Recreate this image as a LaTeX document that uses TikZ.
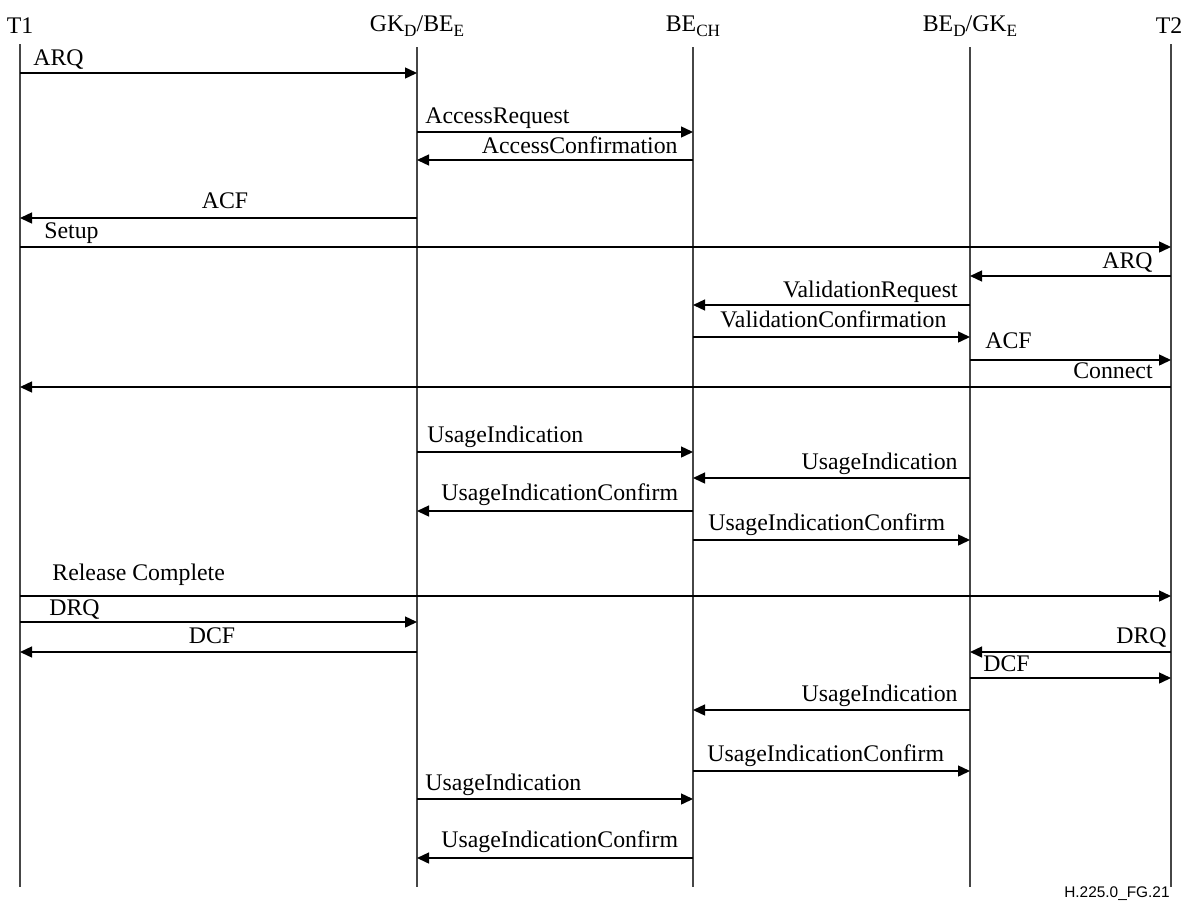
\documentclass[tikz,border=0pt]{standalone}
\usepackage{fontspec}
\setmainfont{Liberation Serif}
\newfontfamily\figfont{Liberation Sans}
\usetikzlibrary{arrows.meta, positioning}
\definecolor{lifegray}{RGB}{70, 70, 70}
\newcommand{\lowsub}[1]{\raisebox{-2.4pt}{\fontsize{8.6}{10}\selectfont #1}}

\begin{document}
\begin{tikzpicture}[x=0.5pt, y=-0.5pt,
    every node/.style={font=\fontsize{11.9}{14}\selectfont, inner sep=0pt},
    head/.style={anchor=base},
    life/.style={lifegray, line width=0.7pt},
    msg/.style={black, line width=0.7pt, -{Triangle[length=6pt, width=5.5pt]}},
    lbl/.style={anchor=base west},
    rlbl/.style={anchor=base east},
    clbl/.style={anchor=base}]
    \useasboundingbox (0,0) rectangle (1192,910);

    % entities
    \node[head] (t1) at (20,33) {T1};
    \node[head] (gk) at (417,32) {GK\lowsub{D}/BE\lowsub{E}};
    \node[head] (bech) at (693,32) {BE\lowsub{CH}};
    \node[head] (begk) at (970,32) {BE\lowsub{D}/GK\lowsub{E}};
    \node[head] (t2) at (1169,33) {T2};

    \draw[life] (t1 |- 0,44) -- (t1 |- 0,887);
    \draw[life] (gk |- 0,47) -- (gk |- 0,887);
    \draw[life] (bech |- 0,47) -- (bech |- 0,887);
    \draw[life] (begk |- 0,47) -- (begk |- 0,887);
    \draw[life] (1171,44) -- (1171,887);
    \coordinate (t2l) at (1171,0);

    % admission
    \draw[msg] (t1 |- 0,73) -- (gk |- 0,73);
    \node[lbl] (arq1) at (33,65) {ARQ};
    \draw[msg] (gk |- 0,132) -- (bech |- 0,132);
    \node[lbl] (accreq) at (425,123) {AccessRequest};
    \draw[msg] (bech |- 0,160) -- (gk |- 0,160);
    \node[rlbl] (acccnf) at (678,153) {AccessConfirmation};
    \draw[msg] (gk |- 0,218) -- (t1 |- 0,218);
    \node[clbl] (acf1) at (225,208) {ACF};

    % call setup
    \draw[msg] (t1 |- 0,247) -- (t2l |- 0,247);
    \node[lbl] (setup) at (44,238) {Setup};
    \draw[msg] (t2l |- 0,276) -- (begk |- 0,276);
    \node[rlbl] (arq2) at (1153,268) {ARQ};
    \draw[msg] (begk |- 0,305) -- (bech |- 0,305);
    \node[rlbl] (valreq) at (958,297) {ValidationRequest};
    \draw[msg] (bech |- 0,337) -- (begk |- 0,337);
    \node[lbl] (valcnf) at (720,327) {ValidationConfirmation};
    \draw[msg] (begk |- 0,360) -- (t2l |- 0,360);
    \node[lbl] (acf2) at (985,348) {ACF};
    \draw[msg] (t2l |- 0,387) -- (t1 |- 0,387);
    \node[rlbl] (connect) at (1153,378) {Connect};

    % usage during the call
    \draw[msg] (gk |- 0,452) -- (bech |- 0,452);
    \node[lbl] (use1) at (427,442) {UsageIndication};
    \draw[msg] (begk |- 0,478) -- (bech |- 0,478);
    \node[rlbl] (use2) at (958,469) {UsageIndication};
    \draw[msg] (bech |- 0,511) -- (gk |- 0,511);
    \node[lbl] (usecnf1) at (441,500) {UsageIndicationConfirm};
    \draw[msg] (bech |- 0,540) -- (begk |- 0,540);
    \node[lbl] (usecnf2) at (708,530) {UsageIndicationConfirm};

    % release
    \draw[msg] (t1 |- 0,596) -- (t2l |- 0,596);
    \node[lbl] (relcomp) at (52,580) {Release Complete};
    \draw[msg] (t1 |- 0,622) -- (gk |- 0,622);
    \node[lbl] (drq1) at (49,615) {DRQ};
    \draw[msg] (gk |- 0,652) -- (t1 |- 0,652);
    \node[clbl] (dcf1) at (212,643) {DCF};
    \draw[msg] (t2l |- 0,652) -- (begk |- 0,652);
    \node[rlbl] (drq2) at (1167,643) {DRQ};
    \draw[msg] (begk |- 0,678) -- (t2l |- 0,678);
    \node[lbl] (dcf2) at (983,671) {DCF};
    \draw[msg] (begk |- 0,710) -- (bech |- 0,710);
    \node[rlbl] (use3) at (958,701) {UsageIndication};
    \draw[msg] (bech |- 0,771) -- (begk |- 0,771);
    \node[lbl] (usecnf3) at (707,761) {UsageIndicationConfirm};
    \draw[msg] (gk |- 0,799) -- (bech |- 0,799);
    \node[lbl] (use4) at (425,790) {UsageIndication};
    \draw[msg] (bech |- 0,858) -- (gk |- 0,858);
    \node[lbl] (usecnf4) at (441,847) {UsageIndicationConfirm};

    \node[anchor=base east, font=\figfont\fontsize{7.7}{9}\selectfont] (figref) at (1170,897) {H.225.0\_FG.21};
\end{tikzpicture}
\end{document}
